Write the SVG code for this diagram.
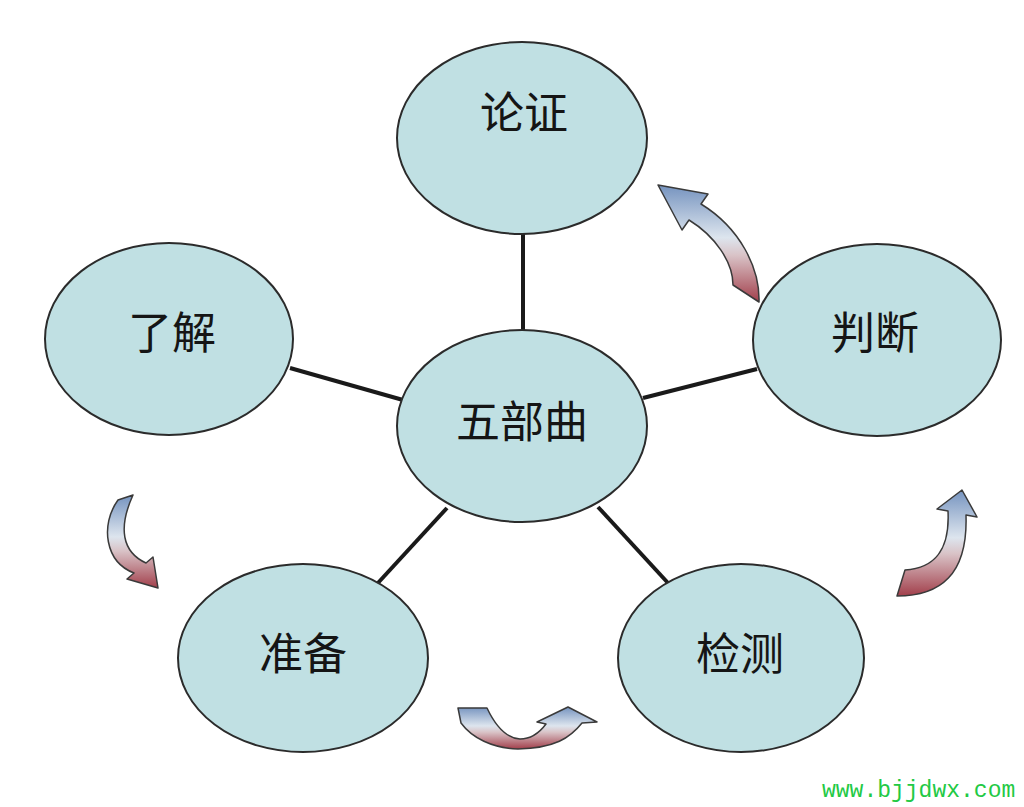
<svg xmlns="http://www.w3.org/2000/svg" width="1024" height="807" viewBox="0 0 1024 807">
<defs>
<linearGradient id="ag" x1="0" y1="0" x2="0" y2="1">
<stop offset="0" stop-color="#7593bf"/>
<stop offset="0.45" stop-color="#dde5ee"/>
<stop offset="0.6" stop-color="#d9c3c7"/>
<stop offset="1" stop-color="#a23f4b"/>
</linearGradient>
<style>
.node ellipse{fill:#c0e0e3;stroke:#2b2b2b;stroke-width:2}
.node text{font-family:"Noto Sans CJK SC","Noto Sans",sans-serif;font-size:44px;fill:#151515;text-anchor:middle}
.conn line{stroke:#1a1a1a;stroke-width:4}
.arr path{fill:url(#ag);stroke:#3a3a3a;stroke-width:1.5;stroke-linejoin:round}
</style>
</defs>
<rect width="1024" height="807" fill="#ffffff"/>
<g id="connectors" class="conn">
<line x1="523" y1="234" x2="523" y2="331"/>
<line x1="290" y1="368" x2="403" y2="400"/>
<line x1="643" y1="398" x2="757" y2="369"/>
<line x1="377" y1="584" x2="447" y2="508"/>
<line x1="598" y1="507" x2="668" y2="583"/>
</g>
<g id="cycle-arrows" class="arr">
<path d="M759,302 C760,268 740,228 701,204 L708,194 L658,185 L682,230 L689,220 C715,236 733,262 733,285 Z"/>
<path d="M897,596 C940,596 968,575 966,515 L977,517 L962,490 L937,509 L948,511 C950,550 935,568 905,570 Z"/>
<path d="M458,708 L487,708 C495,725 505,738 520,739 C532,739 540,732 546,724 L537,722 L568,707 L597,722 L582,723 C570,738 555,748 518,749 C492,748 472,738 461,723 Z"/>
<path d="M133,495 L118,500 C100,525 105,562 134,573 L127,579 L158,588 L153,557 L146,563 C122,552 118,528 133,495 Z"/>
</g>
<g id="node-lunzheng" class="node"><ellipse cx="522" cy="138" rx="125" ry="96"/><text x="524" y="129">论证</text></g>
<g id="node-liaojie" class="node"><ellipse cx="169" cy="339" rx="124" ry="96"/><text x="172" y="349">了解</text></g>
<g id="node-panduan" class="node"><ellipse cx="877" cy="340" rx="124" ry="96"/><text x="875" y="349">判断</text></g>
<g id="node-wubuqu" class="node"><ellipse cx="522" cy="426" rx="125" ry="96"/><text x="522" y="438">五部曲</text></g>
<g id="node-zhunbei" class="node"><ellipse cx="303" cy="658" rx="125" ry="94"/><text x="303" y="670">准备</text></g>
<g id="node-jiance" class="node"><ellipse cx="741" cy="658" rx="123" ry="94"/><text x="740" y="670">检测</text></g>
<text x="822" y="797" font-family="Liberation Mono, monospace" font-size="23" fill="#22c944">www.bjjdwx.com</text>
</svg>
